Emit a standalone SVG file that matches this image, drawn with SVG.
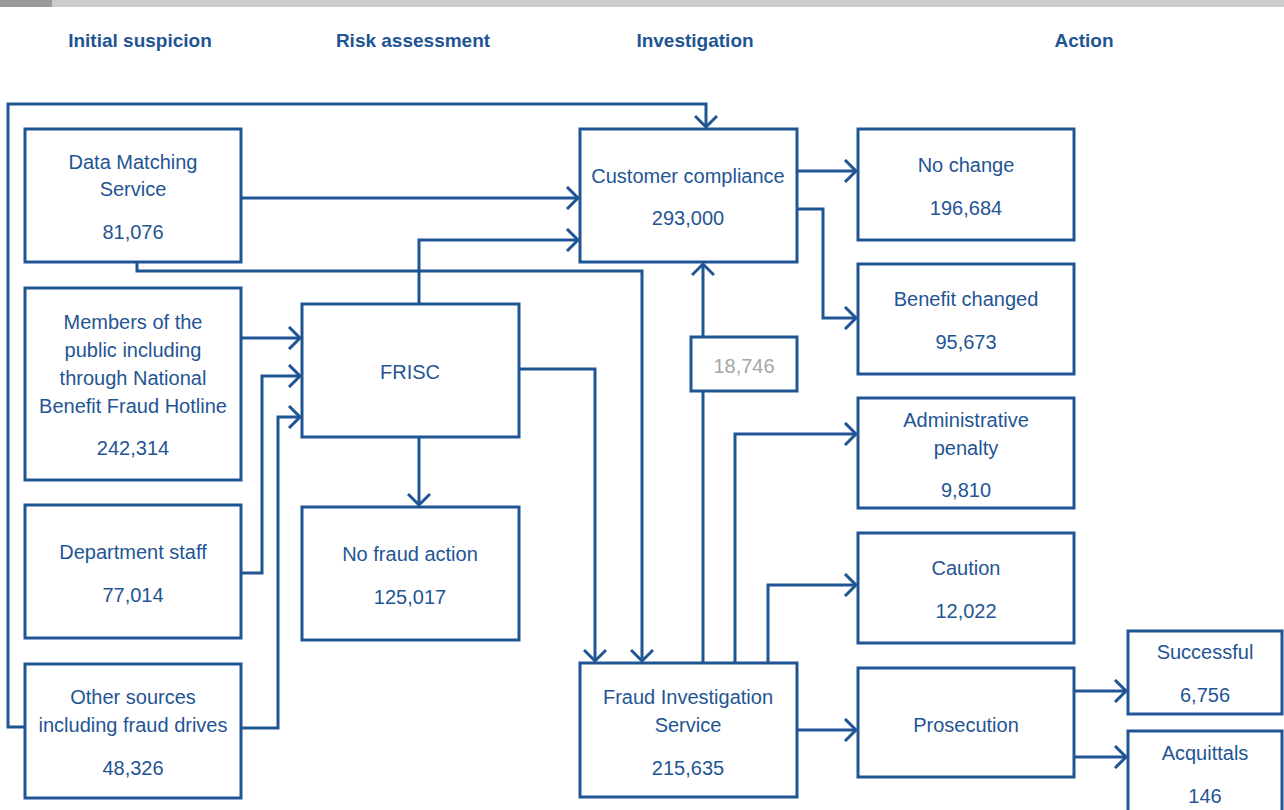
<svg xmlns="http://www.w3.org/2000/svg" width="1284" height="810" viewBox="0 0 1284 810">
<style>
.box{fill:#fff;stroke:#1f5594;stroke-width:3}
.ln{fill:none;stroke:#1f5594;stroke-width:3;stroke-linejoin:miter}
.t{font-family:"Liberation Sans",Arial,sans-serif;font-size:20px;fill:#1f5594;text-anchor:middle}
.h{font-family:"Liberation Sans",Arial,sans-serif;font-size:19px;font-weight:bold;fill:#1f5594;text-anchor:middle}
.g{fill:#a6a6a6}
</style>
<defs>
<marker id="a" markerWidth="16" markerHeight="24" refX="13" refY="12" orient="auto" markerUnits="userSpaceOnUse">
<path d="M2,1 L13,12 L2,23" fill="none" stroke="#1f5594" stroke-width="3"/>
</marker>
</defs>
<rect x="0" y="0" width="1284" height="7" fill="#cccccc"/>
<rect x="0" y="0" width="52" height="7" fill="#999999"/>
<g id="headers">
<text class="h" x="140" y="47">Initial suspicion</text>
<text class="h" x="413" y="47">Risk assessment</text>
<text class="h" x="695" y="47">Investigation</text>
<text class="h" x="1084" y="47">Action</text>
</g>
<g id="connectors">
<path class="ln" d="M25,727 H8 V104 H706 V127" marker-end="url(#a)"/>
<path class="ln" d="M241,198 H578" marker-end="url(#a)"/>
<path class="ln" d="M137,263 V271 H642 V661" marker-end="url(#a)"/>
<path class="ln" d="M419,304 V240 H578" marker-end="url(#a)"/>
<path class="ln" d="M241,338 H300" marker-end="url(#a)"/>
<path class="ln" d="M241,573 H262 V376 H300" marker-end="url(#a)"/>
<path class="ln" d="M241,728 H278 V417 H300" marker-end="url(#a)"/>
<path class="ln" d="M519,369 H595 V661" marker-end="url(#a)"/>
<path class="ln" d="M419,437 V505" marker-end="url(#a)"/>
<path class="ln" d="M797,171 H856" marker-end="url(#a)"/>
<path class="ln" d="M797,209 H823 V318 H856" marker-end="url(#a)"/>
<path class="ln" d="M703,663 V391"/>
<path class="ln" d="M703,337 V264" marker-end="url(#a)"/>
<path class="ln" d="M735,663 V434 H856" marker-end="url(#a)"/>
<path class="ln" d="M768,663 V585 H856" marker-end="url(#a)"/>
<path class="ln" d="M797,730 H856" marker-end="url(#a)"/>
<path class="ln" d="M1074,691 H1126" marker-end="url(#a)"/>
<path class="ln" d="M1074,757 H1126" marker-end="url(#a)"/>
</g>
<g id="dms"><rect class="box" x="25" y="129" width="216" height="133"/>
<text class="t" x="133" y="169">Data Matching</text><text class="t" x="133" y="196">Service</text><text class="t" x="133" y="239">81,076</text></g>
<g id="members"><rect class="box" x="25" y="288" width="216" height="192"/>
<text class="t" x="133" y="329">Members of the</text><text class="t" x="133" y="357">public including</text><text class="t" x="133" y="385">through National</text><text class="t" x="133" y="413">Benefit Fraud Hotline</text><text class="t" x="133" y="455">242,314</text></g>
<g id="staff"><rect class="box" x="25" y="505" width="216" height="133"/>
<text class="t" x="133" y="559">Department staff</text><text class="t" x="133" y="602">77,014</text></g>
<g id="other"><rect class="box" x="25" y="664" width="216" height="134"/>
<text class="t" x="133" y="704">Other sources</text><text class="t" x="133" y="732">including fraud drives</text><text class="t" x="133" y="775">48,326</text></g>
<g id="frisc"><rect class="box" x="302" y="304" width="217" height="133"/>
<text class="t" x="410" y="379">FRISC</text></g>
<g id="nofraud"><rect class="box" x="302" y="507" width="217" height="133"/>
<text class="t" x="410" y="561">No fraud action</text><text class="t" x="410" y="604">125,017</text></g>
<g id="cc"><rect class="box" x="580" y="129" width="217" height="133"/>
<text class="t" x="688" y="183">Customer compliance</text><text class="t" x="688" y="225">293,000</text></g>
<g id="n18746"><rect class="box" x="691" y="337" width="106" height="54"/>
<text class="t g" x="744" y="373">18,746</text></g>
<g id="fis"><rect class="box" x="580" y="663" width="217" height="134"/>
<text class="t" x="688" y="704">Fraud Investigation</text><text class="t" x="688" y="732">Service</text><text class="t" x="688" y="775">215,635</text></g>
<g id="nochange"><rect class="box" x="858" y="129" width="216" height="111"/>
<text class="t" x="966" y="172">No change</text><text class="t" x="966" y="215">196,684</text></g>
<g id="benefit"><rect class="box" x="858" y="264" width="216" height="110"/>
<text class="t" x="966" y="306">Benefit changed</text><text class="t" x="966" y="349">95,673</text></g>
<g id="admin"><rect class="box" x="858" y="398" width="216" height="110"/>
<text class="t" x="966" y="427">Administrative</text><text class="t" x="966" y="455">penalty</text><text class="t" x="966" y="497">9,810</text></g>
<g id="caution"><rect class="box" x="858" y="533" width="216" height="110"/>
<text class="t" x="966" y="575">Caution</text><text class="t" x="966" y="618">12,022</text></g>
<g id="prosecution"><rect class="box" x="858" y="668" width="216" height="109"/>
<text class="t" x="966" y="732">Prosecution</text></g>
<g id="successful"><rect class="box" x="1128" y="631" width="154" height="83"/>
<text class="t" x="1205" y="659">Successful</text><text class="t" x="1205" y="702">6,756</text></g>
<g id="acquittals"><rect class="box" x="1128" y="731" width="154" height="85"/>
<text class="t" x="1205" y="760">Acquittals</text><text class="t" x="1205" y="803">146</text></g>
</svg>
